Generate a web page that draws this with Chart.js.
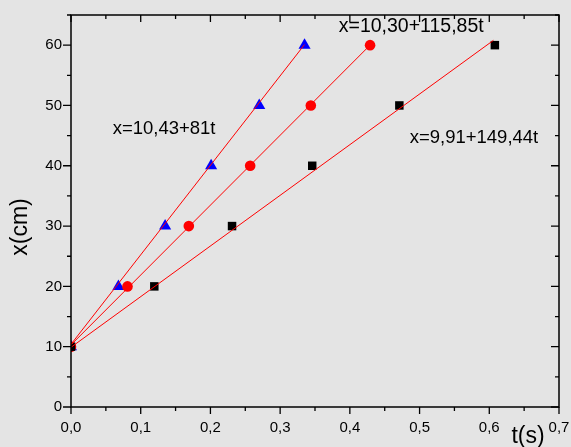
<!DOCTYPE html>
<html lang="tr">
<head>
    <meta charset="UTF-8">
    <title>x(t) grafiği</title>
    <style>
        html, body {
            margin: 0;
            padding: 0;
            background-color: #e4e4e4;
        }
        #chart {
            display: block;
        }
    </style>
</head>
<body>
    <canvas id="chart" width="571" height="447"></canvas>

    <script src="https://cdn.jsdelivr.net/npm/chart.js"></script>
    <script>
        // Ölçülen konumlar (cm)
        const positions = [10, 20, 30, 40, 50, 60];

        // Zamanlar (s) - her seri için
        const timesTriangle = [0, 0.068, 0.135, 0.201, 0.270, 0.335];
        const timesCircle   = [0, 0.081, 0.169, 0.257, 0.344, 0.429];
        const timesSquare   = [0, 0.1195, 0.231, 0.346, 0.471, 0.608];

        // Fit doğrularının uç noktaları
        const fitTriangleT = [0, 0.335];
        const fitTriangleX = [10.4, 60.1];
        const fitCircleT = [0, 0.429];
        const fitCircleX = [10.3, 60.0];
        const fitSquareT = [0, 0.606];
        const fitSquareX = [9.9, 60.8];

        // Denklem yazıları ve konumları (veri koordinatında)
        const equations = ['x=10,43+81t', 'x=10,30+115,85t', 'x=9,91+149,44t'];
        const equationT = [0.1335, 0.488, 0.578];
        const equationX = [46.1, 63.0, 44.7];

        const toPoints = (ts, xs) => ts.map((t, i) => ({ x: t, y: xs[i] }));
        const FONT = '"Liberation Sans", Arial, Helvetica, sans-serif';

        // Çerçeve, küçük/büyük çentikler ve yazılar
        const decorations = {
            id: 'decorations',
            afterDraw(chart) {
                const { ctx, chartArea: a, scales } = chart;
                const xs = scales.x, ys = scales.y;
                ctx.save();
                ctx.strokeStyle = '#000';
                ctx.lineWidth = 1.5;
                ctx.strokeRect(a.left, a.top, a.right - a.left, a.bottom - a.top);

                ctx.lineWidth = 1.3;
                ctx.beginPath();
                for (let i = 0; i <= 14; i++) {
                    const v = i * 0.05;
                    const px = xs.getPixelForValue(v);
                    const len = i % 2 === 0 ? 7 : 4;
                    ctx.moveTo(px, a.bottom); ctx.lineTo(px, a.bottom + len);
                    ctx.moveTo(px, a.top); ctx.lineTo(px, a.top + len);
                }
                for (let i = 0; i <= 13; i++) {
                    const v = i * 5;
                    const py = ys.getPixelForValue(v);
                    const len = i % 2 === 0 ? 8 : 4;
                    ctx.moveTo(a.left, py); ctx.lineTo(a.left - len, py);
                    ctx.moveTo(a.right, py); ctx.lineTo(a.right - len, py);
                }
                ctx.stroke();

                ctx.fillStyle = '#000';
                ctx.textAlign = 'center';
                ctx.textBaseline = 'middle';
                const sizes = [18.5, 19.5, 18.5];
                equations.forEach((txt, i) => {
                    ctx.font = sizes[i] + 'px ' + FONT;
                    ctx.fillText(txt, xs.getPixelForValue(equationT[i]), ys.getPixelForValue(equationX[i]));
                });

                ctx.font = '23px ' + FONT;
                ctx.fillText('t(s)', 528, 437);
                ctx.translate(21, 227);
                ctx.rotate(-Math.PI / 2);
                ctx.fillText('x(cm)', 0, 0);
                ctx.restore();
            }
        };

        const ctx = document.getElementById('chart').getContext('2d');

        const chart = new Chart(ctx, {
            type: 'scatter',
            data: {
                datasets: [
                    {
                        type: 'line',
                        data: toPoints(fitSquareT, fitSquareX),
                        borderColor: '#ff0000',
                        borderWidth: 1,
                        pointRadius: 0
                    },
                    {
                        type: 'line',
                        data: toPoints(fitCircleT, fitCircleX),
                        borderColor: '#ff0000',
                        borderWidth: 1,
                        pointRadius: 0
                    },
                    {
                        type: 'line',
                        data: toPoints(fitTriangleT, fitTriangleX),
                        borderColor: '#ff0000',
                        borderWidth: 1,
                        pointRadius: 0
                    },
                    {
                        data: toPoints(timesSquare, positions),
                        pointStyle: 'rect',
                        pointRadius: 6,
                        backgroundColor: '#000',
                        borderColor: '#000',
                        borderWidth: 0
                    },
                    {
                        data: toPoints(timesCircle, positions),
                        pointStyle: 'circle',
                        pointRadius: 5.3,
                        backgroundColor: '#ff0000',
                        borderColor: '#ff0000',
                        borderWidth: 0
                    },
                    {
                        data: toPoints(timesTriangle, positions),
                        pointStyle: 'triangle',
                        pointRadius: 7,
                        backgroundColor: '#0000ff',
                        borderColor: '#0000ff',
                        borderWidth: 0
                    }
                ]
            },
            options: {
                responsive: false,
                animation: false,
                devicePixelRatio: 1,
                layout: { padding: { top: 15, right: 12, left: 0, bottom: 0 } },
                plugins: {
                    legend: { display: false },
                    tooltip: { enabled: false }
                },
                scales: {
                    x: {
                        type: 'linear',
                        min: 0,
                        max: 0.7,
                        afterFit(scale) {
                            scale.height = 40;
                            scale.paddingLeft = 0;
                            scale.paddingRight = 0;
                        },
                        border: { display: false },
                        grid: { display: false, drawTicks: false },
                        ticks: {
                            stepSize: 0.1,
                            autoSkip: false,
                            maxRotation: 0,
                            padding: 12,
                            color: '#000',
                            font: { family: FONT, size: 15 },
                            callback: v => v.toFixed(1).replace('.', ',')
                        }
                    },
                    y: {
                        type: 'linear',
                        min: 0,
                        max: 65,
                        afterFit(scale) {
                            scale.width = 71;
                            scale.paddingTop = 0;
                            scale.paddingBottom = 0;
                        },
                        border: { display: false },
                        grid: { display: false, drawTicks: false },
                        ticks: {
                            stepSize: 10,
                            includeBounds: false,
                            padding: 9,
                            color: '#000',
                            font: { family: FONT, size: 15 },
                            callback: v => String(v)
                        }
                    }
                }
            },
            plugins: [decorations]
        });
    </script>
</body>
</html>
